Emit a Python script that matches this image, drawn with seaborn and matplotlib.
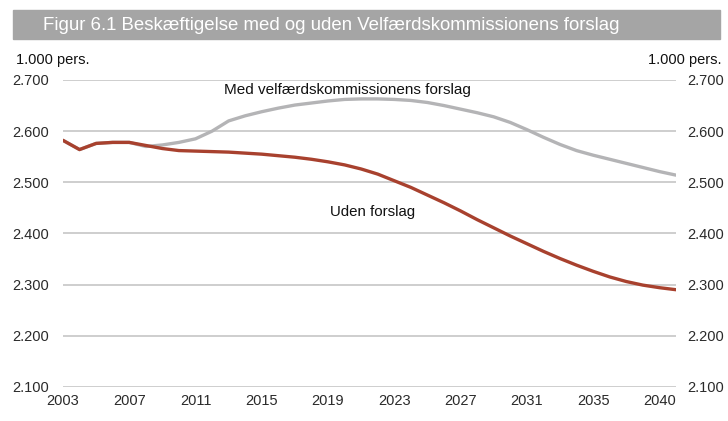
import numpy as np
import pandas as pd
import seaborn as sns
import matplotlib.pyplot as plt

# employment, 1.000 persons
years = list(range(2003, 2041))
uden_forslag = [2582, 2564, 2576, 2578, 2578, 2572, 2566, 2562, 2561, 2560,
                2559, 2557, 2555, 2552, 2549, 2545, 2540, 2534, 2526, 2516,
                2503, 2490, 2475, 2460, 2444, 2427, 2411, 2395, 2380, 2365,
                2351, 2338, 2326, 2315, 2306, 2299, 2294, 2290]
med_forslag = [2582, 2564, 2576, 2578, 2578, 2570, 2573, 2578, 2585, 2600,
               2620, 2630, 2638, 2645, 2651, 2655, 2659, 2662, 2663, 2663,
               2662, 2660, 2656, 2650, 2643, 2636, 2628, 2617, 2603, 2588,
               2574, 2562, 2553, 2545, 2537, 2529, 2521, 2514]
tick_years = [2003, 2007, 2011, 2015, 2019, 2023, 2027, 2031, 2035, 2039]
tick_labels = ['2003', '2007', '2011', '2015', '2019', '2023', '2027', '2031', '2035', '2040']
y_ticks = [2100, 2200, 2300, 2400, 2500, 2600, 2700]

df = pd.DataFrame({
    'year': years * 2,
    'value': med_forslag + uden_forslag,
    'serie': ['Med'] * len(years) + ['Uden'] * len(years),
})

sns.set_style('white')
plt.rcParams['font.family'] = ['Liberation Sans', 'DejaVu Sans']

fig = plt.figure(figsize=(7.28, 4.21), dpi=100)
ax = fig.add_axes([0.0865, 0.081, 0.842, 0.729])

sns.lineplot(data=df, x='year', y='value', hue='serie',
             palette={'Med': '#b4b4b6', 'Uden': '#a8412e'},
             hue_order=['Med', 'Uden'], linewidth=2.4, legend=False, ax=ax)

ax.set_xlim(2003, 2040)
ax.set_ylim(2100, 2700)
ax.set_yticks(y_ticks)
ax.set_yticklabels([f'{v/1000:.3f}' for v in y_ticks])
ax.set_xticks(tick_years)
ax.set_xticklabels(tick_labels)
ax.yaxis.grid(True, color='#c6c6c6', linewidth=1.2)
ax.xaxis.grid(False)
ax.set_axisbelow(True)
for s in ax.spines.values():
    s.set_visible(False)
ax.tick_params(axis='both', length=0, labelsize=10.5, colors='#2a2a2a')
ax.tick_params(axis='y', pad=10)
ax.tick_params(axis='x', pad=5)
ax.set_xlabel('')
ax.set_ylabel('')

ax2 = ax.twinx()
ax2.set_ylim(ax.get_ylim())
ax2.set_yticks(y_ticks)
ax2.set_yticklabels([f'{v/1000:.3f}' for v in y_ticks])
ax2.tick_params(axis='y', length=0, labelsize=10.5, colors='#2a2a2a', pad=8)
for s in ax2.spines.values():
    s.set_visible(False)

ax.text(2020.2, 2680, 'Med velfærdskommissionens forslag', ha='center', va='center',
        fontsize=11, color='#111111')
ax.text(2019.1, 2442, 'Uden forslag', ha='left', va='center',
        fontsize=10.8, color='#111111')

# title bar
fig.patches.append(plt.Rectangle((13 / 728, 1 - 39 / 421), 707 / 728, 29 / 421,
                                 transform=fig.transFigure, color='#a5a5a5', zorder=0))
fig.text(43 / 728, 1 - 25 / 421, 'Figur 6.1 Beskæftigelse med og uden Velfærdskommissionens forslag',
         color='white', fontsize=13.4, va='center', ha='left')
fig.text(16 / 728, 1 - 60 / 421, '1.000 pers.', fontsize=10.5, va='center', ha='left', color='#111111')
fig.text(722 / 728, 1 - 60 / 421, '1.000 pers.', fontsize=10.5, va='center', ha='right', color='#111111')

fig.savefig('out.png', dpi=100, facecolor='white')
